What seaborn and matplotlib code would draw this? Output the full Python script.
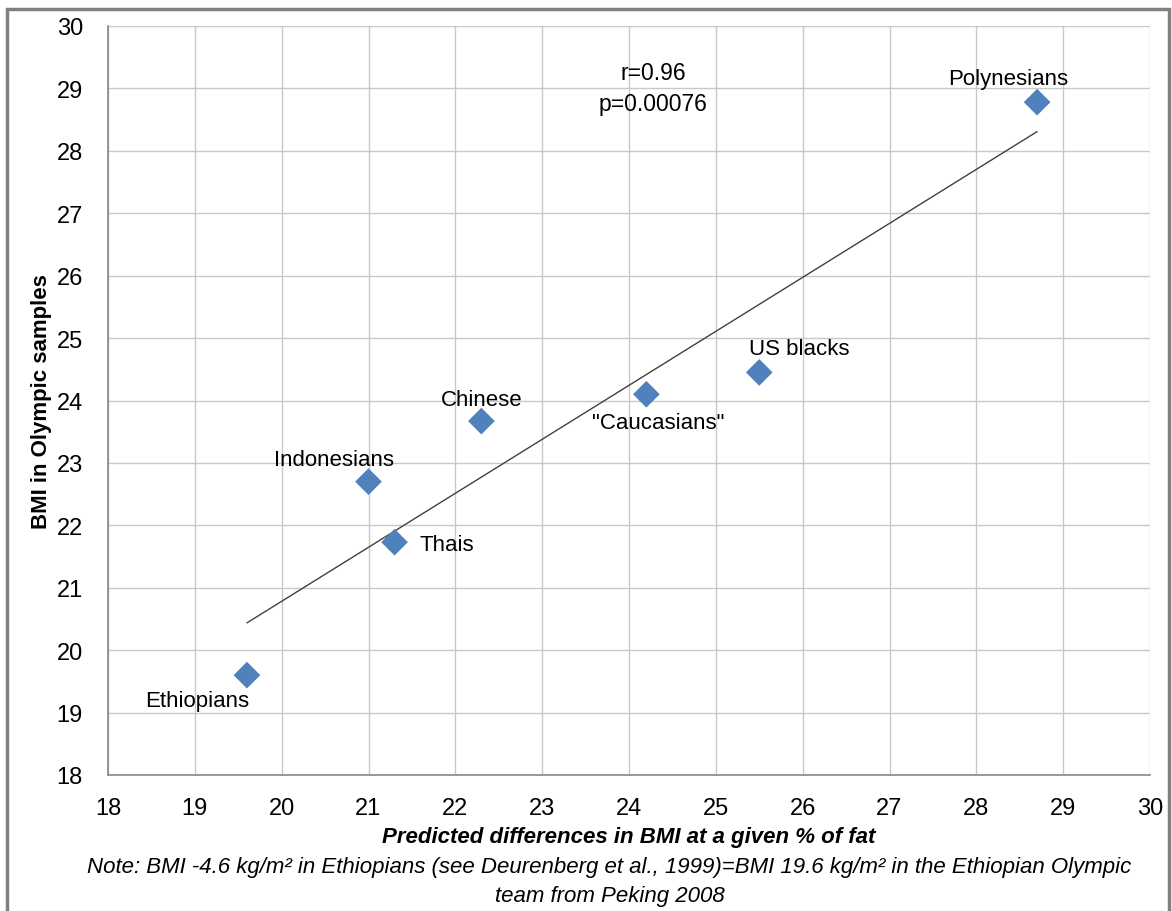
import numpy as np
import pandas as pd
import seaborn as sns
from matplotlib import pyplot as plt
from matplotlib.patches import Rectangle

# values
groups = ['Ethiopians', 'Indonesians', 'Thais', 'Chinese', '"Caucasians"', 'US blacks', 'Polynesians']
pred_bmi = [19.6, 21.0, 21.3, 22.3, 24.2, 25.5, 28.7]
olympic_bmi = [19.6, 22.7, 21.73, 23.67, 24.1, 24.45, 28.78]
# label offsets in pixels (dx, dy) from each point
label_offsets = [(-50, -25), (-34, 22), (52, -2), (0, 22), (12, -28), (40, 24), (-29, 24)]
axis_ticks = list(range(18, 31))
stats_text = 'r=0.96\np=0.00076'
note_text = ('Note: BMI -4.6 kg/m\u00b2 in Ethiopians (see Deurenberg et al., 1999)=BMI 19.6 kg/m\u00b2 in the Ethiopian Olympic\n'
             'team from Peking 2008')


def main():
    sns.set_style('white')
    plt.rcParams['font.family'] = ['Liberation Sans', 'DejaVu Sans']
    plt.rcParams['text.color'] = 'black'
    plt.rcParams['axes.labelcolor'] = 'black'
    plt.rcParams['xtick.color'] = 'black'
    plt.rcParams['ytick.color'] = 'black'

    df = pd.DataFrame({'group': groups, 'x': pred_bmi, 'y': olympic_bmi})

    fig = plt.figure(figsize=(11.72, 9.12), dpi=100)
    ax = fig.add_axes([108 / 1172, 1 - 776 / 912, (1150 - 108) / 1172, (776 - 27) / 912])

    sns.regplot(data=df, x='x', y='y', ax=ax, scatter=False, ci=None, truncate=True,
                line_kws={'color': '#404040', 'lw': 1.0, 'zorder': 2})
    sns.scatterplot(data=df, x='x', y='y', ax=ax, marker='D', s=185, color='#4F81BD',
                    edgecolor='none', zorder=3)

    for g, x, y, (dx, dy) in zip(groups, pred_bmi, olympic_bmi, label_offsets):
        ax.annotate(g, (x, y), xytext=(dx, dy), textcoords='offset pixels',
                    ha='center', va='center', fontsize=16, color='black')

    ax.text(24.28, 29.0, stats_text, ha='center', va='center', fontsize=16.5,
            linespacing=1.45)

    ax.set_xlim(18, 30)
    ax.set_ylim(18, 30)
    ax.set_xticks(axis_ticks)
    ax.set_yticks(axis_ticks)
    ax.grid(True, color='#C8C8C8', lw=1.0)
    ax.set_axisbelow(True)
    for side in ['top', 'right']:
        ax.spines[side].set_visible(False)
    for side in ['left', 'bottom']:
        ax.spines[side].set_color('#888888')
        ax.spines[side].set_linewidth(1.2)
    ax.tick_params(axis='both', direction='out', length=6, width=1, color='#888888',
                   labelsize=17, labelcolor='black')
    ax.tick_params(axis='x', pad=10)
    ax.tick_params(axis='y', pad=12)

    ax.set_xlabel('Predicted differences in BMI at a given % of fat', fontsize=16,
                  fontweight='bold', fontstyle='italic', labelpad=5)
    ax.set_ylabel('BMI in Olympic samples', fontsize=16, fontweight='bold', labelpad=3)

    fig.text(0.52, 1 - 882 / 912, note_text, ha='center', va='center', fontsize=16,
             fontstyle='italic', linespacing=1.45)

    fig.patches.append(Rectangle((7 / 1172, -0.01), (1169 - 7) / 1172, (912 - 10) / 912 + 0.01,
                                 transform=fig.transFigure, fill=False,
                                 edgecolor='#808080', lw=2.5))

    plt.savefig('out.png', dpi=100)


if __name__ == '__main__':
    main()
